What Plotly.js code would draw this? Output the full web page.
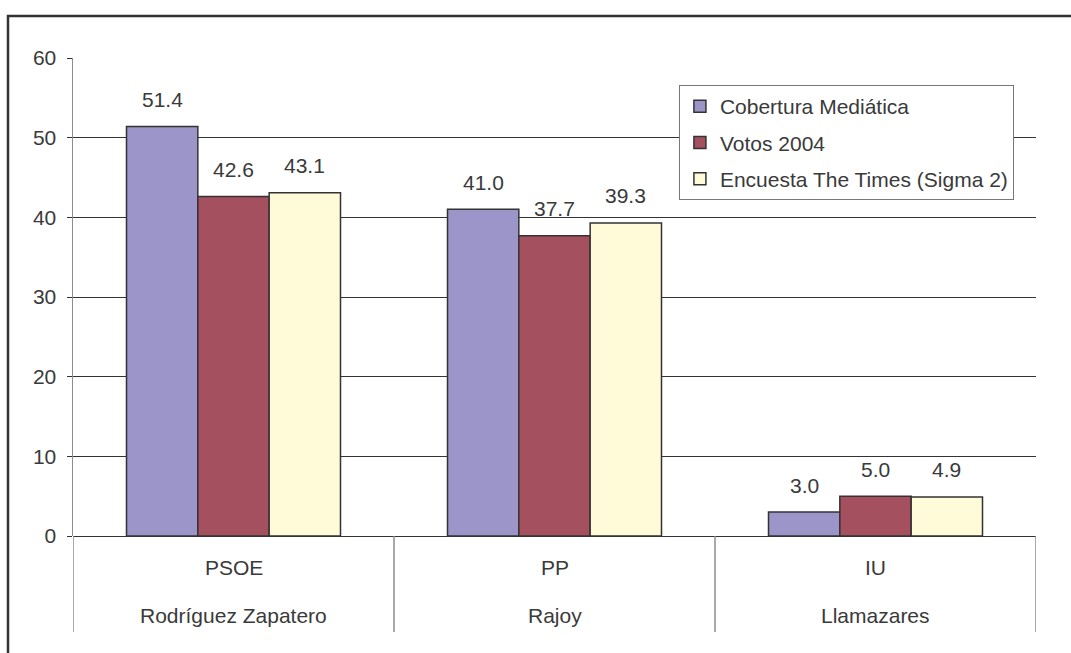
<!DOCTYPE html>
<html>
<head>
<meta charset="utf-8">
<script src="https://cdn.plot.ly/plotly-3.0.1.min.js"></script>
<style>
html,body{margin:0;padding:0;background:#fff;}
#chart{width:1071px;height:653px;}
</style>
</head>
<body>
<div id="chart"></div>
<script>
// Data
var parties = ["PSOE", "PP", "IU"];
var leaders = ["Rodríguez Zapatero", "Rajoy", "Llamazares"];
var seriesNames = ["Cobertura Mediática", "Votos 2004", "Encuesta The Times (Sigma 2)"];
var cobertura = [51.4, 41.0, 3.0];
var votos2004 = [42.6, 37.7, 5.0];
var encuesta = [43.1, 39.3, 4.9];
var seriesValues = [cobertura, votos2004, encuesta];
var seriesColors = ["#9b95c9", "#a5505f", "#fffad7"];
var yTicks = [0, 10, 20, 30, 40, 50, 60];

var FONT = "Liberation Sans, Arial, Helvetica, sans-serif";
var TXT = "#3a3a3a";
var FS = 21;
var bargap = 1/3;
var nSeries = seriesValues.length;
var barW = (1 - bargap) / nSeries;

var traces = seriesValues.map(function(vals, s){
  return {
    type: "bar",
    name: seriesNames[s],
    x: parties,
    y: vals,
    legendgroup: "g" + s,
    marker: {color: seriesColors[s], line: {color: "#333333", width: 1.5}},
    hoverinfo: "name+y"
  };
});

var annotations = [];
seriesValues.forEach(function(vals, s){
  vals.forEach(function(v, i){
    annotations.push({
      xref: "x", yref: "y",
      x: i + (s - (nSeries - 1) / 2) * barW,
      y: v,
      text: v.toFixed(1),
      showarrow: false,
      yanchor: "middle",
      yshift: 27,
      font: {family: FONT, size: FS, color: TXT}
    });
  });
});
// category labels (two rows)
parties.forEach(function(p, i){
  annotations.push({
    xref: "x", yref: "paper", x: i, y: 0, text: p, showarrow: false,
    yanchor: "middle", yshift: -31, font: {family: FONT, size: FS, color: TXT}
  });
  annotations.push({
    xref: "x", yref: "paper", x: i, y: 0, text: leaders[i], showarrow: false,
    yanchor: "middle", yshift: -79, font: {family: FONT, size: FS, color: TXT}
  });
});

var shapes = [];
// category separators below the axis
for (var k = 0; k <= parties.length; k++) {
  shapes.push({
    type: "line", xref: "x", yref: "paper",
    x0: k - 0.5, x1: k - 0.5, y0: 0, y1: -0.2008,
    line: {color: "#8c8c8c", width: 1.5}
  });
}
// outer frame
shapes.push({
  type: "path", xref: "paper", yref: "paper",
  path: "M -0.0675 -0.3 L -0.0675 1.0879 L 1.1 1.0879",
  line: {color: "#333333", width: 2.5}
});

var layout = {
  width: 1071, height: 653,
  margin: {l: 73, r: 35, t: 58, b: 117},
  paper_bgcolor: "#ffffff",
  plot_bgcolor: "#ffffff",
  barmode: "group",
  bargap: bargap,
  bargroupgap: 0,
  showlegend: true,
  legend: {
    x: 0.6292, y: 0.9435, xanchor: "left", yanchor: "top",
    bgcolor: "#ffffff", bordercolor: "#777777", borderwidth: 1,
    font: {family: FONT, size: FS, color: TXT},
    traceorder: "grouped", tracegroupgap: 6
  },
  xaxis: {
    type: "category",
    range: [-0.5, 2.5],
    showticklabels: false,
    showgrid: false,
    showline: false,
    zeroline: false,
    ticks: ""
  },
  yaxis: {
    range: [0, 60],
    tickvals: yTicks,
    ticktext: yTicks.map(String),
    showgrid: true, gridcolor: "#333333", gridwidth: 1,
    zeroline: true, zerolinecolor: "#333333", zerolinewidth: 1,
    showline: true, linecolor: "#8c8c8c", linewidth: 1.5,
    ticks: "outside", ticklen: 5, tickcolor: "#333333",
    ticklabelstandoff: 6,
    tickfont: {family: FONT, size: FS, color: TXT}
  },
  annotations: annotations,
  shapes: shapes
};

Plotly.newPlot("chart", traces, layout, {displayModeBar: false, staticPlot: true});
</script>
</body>
</html>
